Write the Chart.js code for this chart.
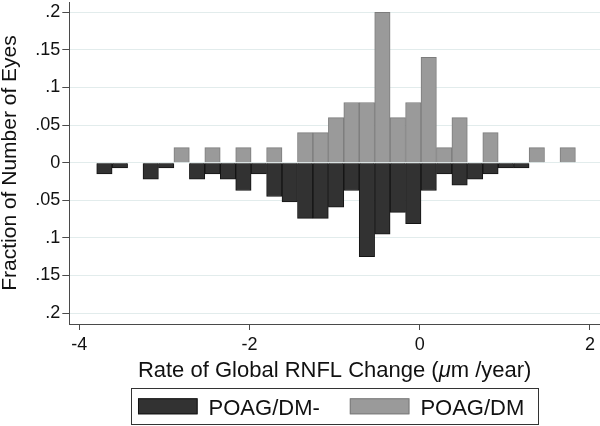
<!DOCTYPE html>
<html>
<head>
<meta charset="utf-8">
<script src="https://cdn.jsdelivr.net/npm/chart.js@4.4.1/dist/chart.umd.min.js"></script>
<style>
  html, body { margin: 0; padding: 0; background: #fff; }
  #wrap { width: 600px; height: 426px; }
</style>
</head>
<body>
<div id="wrap"><canvas id="myChart" width="600" height="426"></canvas></div>
<script>
// bin centres (µm/year)
const binCenters = [-3.705, -3.523, -3.342, -3.161, -2.979, -2.798, -2.616, -2.435, -2.253, -2.072,
                    -1.891, -1.709, -1.528, -1.346, -1.165, -0.983, -0.802, -0.621, -0.439, -0.258,
                    -0.076, 0.105, 0.287, 0.468, 0.650, 0.831, 1.012, 1.194, 1.375, 1.557, 1.738];

// fraction of eyes, POAG/DM- (drawn downwards)
const poagDmMinus = [0.015, 0.007, null, 0.022, 0.007, null, 0.022, 0.015, 0.022, 0.037,
                     0.015, 0.045, 0.052, 0.074, 0.074, 0.059, 0.037, 0.125, 0.095, 0.066,
                     0.081, 0.037, 0.015, 0.030, 0.022, 0.015, 0.007, 0.007, null, null, null];

// fraction of eyes, POAG/DM (drawn upwards)
const poagDm = [null, null, null, null, null, 0.02, null, 0.02, null, 0.02,
                null, 0.02, null, 0.04, 0.04, 0.06, 0.08, 0.08, 0.20, 0.06,
                0.08, 0.14, 0.02, 0.06, null, 0.04, null, null, 0.02, null, 0.02];

const seriesLabels = ['POAG/DM-', 'POAG/DM'];
const xTicks = [-4, -2, 0, 2];
const yTicks = [-0.2, -0.15, -0.1, -0.05, 0, 0.05, 0.1, 0.15, 0.2];
const yTickLabels = ['.2', '.15', '.1', '.05', '0', '.05', '.1', '.15', '.2'];

const FONT = "'Liberation Sans', Arial, Helvetica, sans-serif";
const INK = '#111111';
const AXIS = '#4a4a4a';

function toPoints(values, sign) {
    return binCenters.map((x, i) => ({ x: x, y: values[i] == null ? null : sign * values[i] }));
}

// legend with a frame + x title with italic mu, drawn under the plot
const framePlugin = {
    id: 'framePlugin',
    afterDraw(chart) {
        const ctx = chart.ctx;
        const area = chart.chartArea;
        const cx = (area.left + area.right) / 2;
        ctx.save();
        ctx.fillStyle = INK;
        ctx.textBaseline = 'alphabetic';

        // x axis title
        const parts = [
            { t: 'Rate of Global RNFL Change (', f: '22px ' + FONT },
            { t: 'μ', f: 'italic 22px ' + FONT },
            { t: 'm /year)', f: '22px ' + FONT }
        ];
        let total = 0;
        parts.forEach(p => { ctx.font = p.f; p.w = ctx.measureText(p.t).width; total += p.w; });
        let x = cx - total / 2;
        parts.forEach(p => { ctx.font = p.f; ctx.fillText(p.t, x, 376.5); x += p.w; });

        // legend
        ctx.font = '22px ' + FONT;
        const boxW = 59.6, boxH = 16, gap = 11, itemGap = 30;
        const ds = chart.data.datasets;
        const widths = ds.map(d => ctx.measureText(d.label).width);
        const content = boxW * 2 + gap * 2 + itemGap + widths[0] + widths[1];
        const frameW = content + 21;
        const frameL = cx - frameW / 2;
        ctx.strokeStyle = '#333';
        ctx.lineWidth = 1;
        ctx.strokeRect(Math.round(frameL) + 0.5, 388.5, Math.round(frameW), 36);
        let lx = frameL + 7;
        ds.forEach((d, i) => {
            ctx.fillStyle = d.backgroundColor;
            ctx.fillRect(lx, 398.3, boxW, boxH);
            ctx.strokeStyle = d.borderColor;
            ctx.strokeRect(lx + 0.5, 398.8, boxW - 1, boxH - 1);
            ctx.fillStyle = INK;
            ctx.fillText(d.label, lx + boxW + gap, 415);
            lx += boxW + gap + widths[i] + itemGap;
        });
        ctx.restore();
    }
};

new Chart(document.getElementById('myChart').getContext('2d'), {
    type: 'bar',
    data: {
        datasets: [
            {
                label: seriesLabels[0],
                data: toPoints(poagDmMinus, -1),
                backgroundColor: '#323232',
                borderColor: '#141414',
                borderWidth: 1
            },
            {
                label: seriesLabels[1],
                data: toPoints(poagDm, 1),
                backgroundColor: '#9a9a9a',
                borderColor: '#7c7c7c',
                borderWidth: 1
            }
        ]
    },
    options: {
        responsive: false,
        animation: false,
        grouped: false,
        barPercentage: 1,
        categoryPercentage: 1,
        layout: { padding: { top: 2, right: 0, left: 0, bottom: 0 } },
        plugins: {
            legend: { display: false },
            tooltip: { enabled: false }
        },
        scales: {
            x: {
                type: 'linear',
                offset: false,
                min: -4.1175,
                max: 2.1175,
                afterBuildTicks: scale => { scale.ticks = xTicks.map(v => ({ value: v })); },
                afterFit: scale => {
                    scale.height = 102;
                    scale.paddingLeft = 0;
                    scale.paddingRight = 0;
                },
                grid: { offset: false, drawOnChartArea: false, tickColor: AXIS, tickLength: 6 },
                border: { color: AXIS, width: 1 },
                ticks: {
                    color: INK,
                    font: { family: FONT, size: 18 },
                    padding: 4,
                    maxRotation: 0,
                    callback: v => String(v)
                }
            },
            y: {
                min: -0.2145,
                max: 0.2137,
                afterBuildTicks: scale => { scale.ticks = yTicks.map(v => ({ value: v })); },
                afterFit: scale => {
                    scale.width = 69.3;
                    scale.paddingTop = 0;
                    scale.paddingBottom = 0;
                },
                grid: { color: '#e2ecec', tickColor: AXIS, tickLength: 7, lineWidth: 1 },
                border: { color: AXIS, width: 1 },
                ticks: {
                    color: INK,
                    font: { family: FONT, size: 18 },
                    padding: 2,
                    callback: (v, i) => yTickLabels[i]
                },
                title: {
                    display: true,
                    text: 'Fraction of Number of Eyes',
                    color: INK,
                    font: { family: FONT, size: 21, lineHeight: 1 },
                    padding: { top: 0, bottom: 0 }
                }
            }
        }
    },
    plugins: [framePlugin]
});
</script>
</body>
</html>
